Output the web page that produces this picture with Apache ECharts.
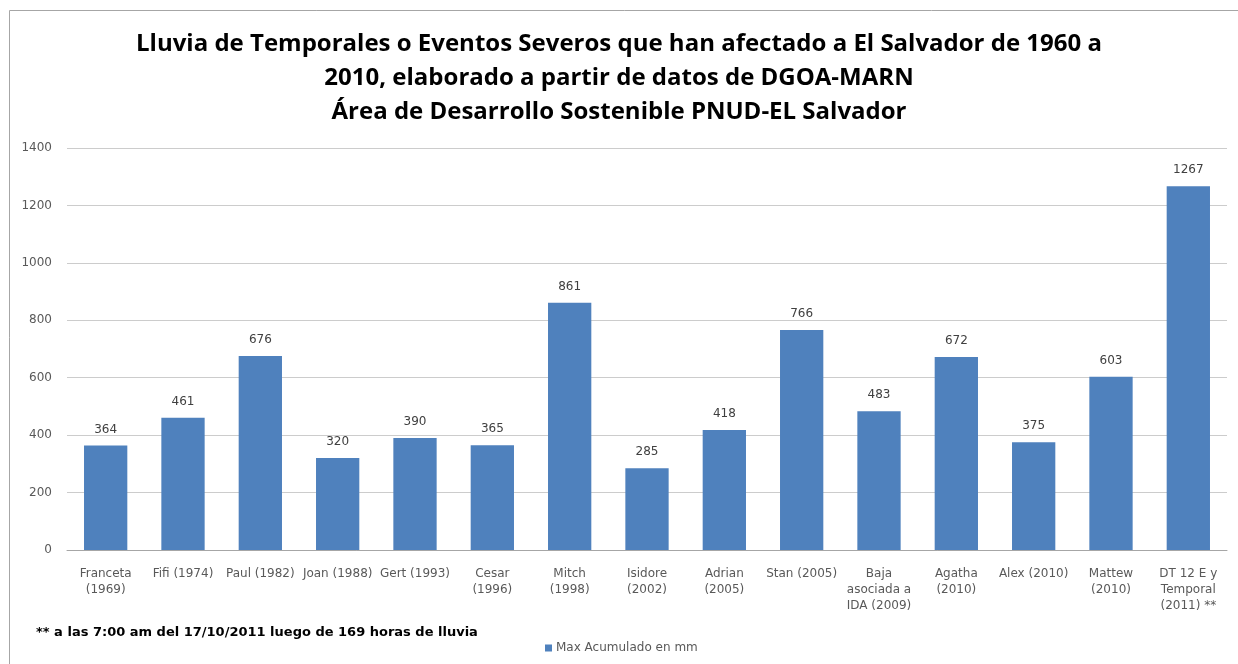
<!DOCTYPE html>
<html style="height: 100%">
<head>
    <meta charset="UTF-8">
    <title>Lluvia de Temporales - El Salvador</title>
    <script type="text/javascript" src="https://cdn.jsdelivr.net/npm/echarts@6/dist/echarts.min.js"></script>
</head>
<body style="height: 100%; margin: 0; background: #fff; overflow: hidden">
    <div id="container" style="width: 1238px; height: 664px"></div>
    <script type="text/javascript">
        // categorias (con saltos de linea como en la grafica original)
        var eventos = [
            'Franceta\n(1969)', 'Fifi (1974)', 'Paul (1982)', 'Joan (1988)', 'Gert (1993)',
            'Cesar\n(1996)', 'Mitch\n(1998)', 'Isidore\n(2002)', 'Adrian\n(2005)', 'Stan (2005)',
            'Baja\nasociada a\nIDA (2009)', 'Agatha\n(2010)', 'Alex (2010)', 'Mattew\n(2010)',
            'DT 12 E y\nTemporal\n(2011) **'
        ];
        var lluviaMax = [364, 461, 676, 320, 390, 365, 861, 285, 418, 766, 483, 672, 375, 603, 1267];
        var tituloLineas = [
            'Lluvia de Temporales o Eventos Severos que han afectado a El Salvador de 1960 a',
            '2010, elaborado a partir de datos de DGOA-MARN',
            'Área de Desarrollo Sostenible PNUD-EL Salvador'
        ];
        var nombreSerie = 'Max Acumulado en mm';
        var nota = '** a las 7:00 am del 17/10/2011 luego de 169 horas de lluvia';

        var smallFont = 'DejaVu Sans';

        var myChart = echarts.init(document.getElementById('container'));
        var option = {
            backgroundColor: '#fff',
            textStyle: { fontFamily: smallFont },
            title: {
                text: tituloLineas.join('\n'),
                left: 'center',
                top: 22,
                textStyle: {
                    fontFamily: 'Open Sans',
                    fontSize: 24,
                    fontWeight: 'bold',
                    color: '#000',
                    lineHeight: 34
                }
            },
            graphic: [
                {
                    // marco del grafico (solo se ven el borde izquierdo y el superior)
                    type: 'rect',
                    shape: { x: 9.5, y: 10.5, width: 1400, height: 800 },
                    style: { fill: 'none', stroke: '#a6a6a6', lineWidth: 1 }
                },
                {
                    type: 'text',
                    left: 36,
                    top: 626,
                    style: {
                        text: nota,
                        fontFamily: smallFont,
                        fontSize: 13,
                        fontWeight: 'bold',
                        fill: '#000'
                    }
                }
            ],
            legend: {
                data: [nombreSerie],
                left: 540,
                top: 637,
                itemWidth: 7,
                itemHeight: 7,
                itemGap: 4,
                icon: 'rect',
                textStyle: { fontFamily: smallFont, fontSize: 12, color: '#595959', padding: [0, 0, 0, -1] }
            },
            grid: {
                left: 67,
                right: 11,
                top: 148,
                bottom: 114,
                containLabel: false
            },
            xAxis: {
                type: 'category',
                data: eventos,
                axisTick: { show: false },
                axisLine: { lineStyle: { color: '#a6a6a6' } },
                axisLabel: {
                    interval: 0,
                    color: '#595959',
                    fontFamily: smallFont,
                    fontSize: 12,
                    lineHeight: 16,
                    margin: 16
                }
            },
            yAxis: {
                type: 'value',
                min: 0,
                max: 1400,
                interval: 200,
                axisLine: { show: false },
                axisTick: { show: false },
                splitLine: { lineStyle: { color: '#cccccc' } },
                axisLabel: {
                    color: '#595959',
                    fontFamily: smallFont,
                    fontSize: 12,
                    margin: 15,
                    formatter: function (v) { return String(v); }
                }
            },
            series: [{
                name: nombreSerie,
                type: 'bar',
                data: lluviaMax,
                barWidth: '56%',
                itemStyle: { color: '#4F81BD' },
                label: {
                    show: true,
                    position: 'top',
                    distance: 10,
                    color: '#404040',
                    fontFamily: smallFont,
                    fontSize: 12
                },
                animation: false
            }]
        };
        myChart.setOption(option);
    </script>
</body>
</html>
